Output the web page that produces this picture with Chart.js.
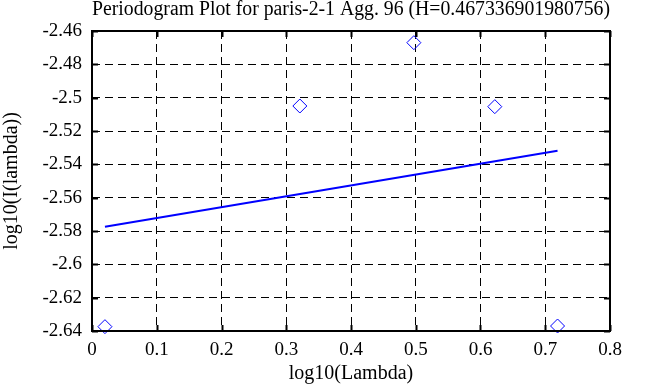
<!DOCTYPE html>
<html>
<head>
<meta charset="utf-8">
<script src="https://cdn.jsdelivr.net/npm/chart.js@4/dist/chart.umd.min.js"></script>
<style>
html,body{margin:0;padding:0;background:#fff;}
#wrap{width:657px;height:387px;}
</style>
</head>
<body>
<div id="wrap"><canvas id="c" width="657" height="387"></canvas></div>
<script>
// ---- data ----
const xLambda = [0.0200, 0.3210, 0.4971, 0.6221, 0.7190];   // log10(Lambda)
const yPower  = [-2.6374, -2.5050, -2.4670, -2.5054, -2.6370]; // log10(I(lambda))
const fitX = [0.0200, 0.7190];
const fitY = [-2.5775, -2.5319];
const xTicks = [0, 0.1, 0.2, 0.3, 0.4, 0.5, 0.6, 0.7, 0.8];
const yTicks = [-2.46, -2.48, -2.5, -2.52, -2.54, -2.56, -2.58, -2.6, -2.62, -2.64];
const titleText = 'Periodogram Plot for paris-2-1 Agg. 96 (H=0.467336901980756)';
const xTitle = 'log10(Lambda)';
const yTitle = 'log10(I(lambda))';

const FONT = 'Liberation Serif';

const framePlugin = {
  id: 'frame',
  afterDatasetsDraw(chart) {
    const {ctx, chartArea: a, scales} = chart;
    ctx.save();
    ctx.strokeStyle = '#000';
    ctx.lineWidth = 2;
    ctx.setLineDash([]);
    const tl = 6;
    ctx.beginPath();
    scales.x.ticks.forEach(t => {
      const px = Math.round(scales.x.getPixelForValue(t.value)) + 0.5;
      ctx.moveTo(px, a.bottom); ctx.lineTo(px, a.bottom - tl);
      ctx.moveTo(px, a.top); ctx.lineTo(px, a.top + tl);
    });
    scales.y.ticks.forEach(t => {
      const py = Math.round(scales.y.getPixelForValue(t.value)) + 0.5;
      ctx.moveTo(a.left, py); ctx.lineTo(a.left + tl, py);
      ctx.moveTo(a.right, py); ctx.lineTo(a.right - tl, py);
    });
    ctx.stroke();
    ctx.strokeRect(a.left, a.top, a.right - a.left, a.bottom - a.top);
    ctx.restore();
  }
};

new Chart(document.getElementById('c'), {
  type: 'scatter',
  data: {
    datasets: [
      {
        label: 'fit',
        type: 'line',
        data: fitX.map((x, i) => ({x, y: fitY[i]})),
        borderColor: '#0000ff',
        borderWidth: 2,
        pointRadius: 0,
        fill: false,
        order: 2
      },
      {
        label: 'periodogram',
        data: xLambda.map((x, i) => ({x, y: yPower[i]})),
        pointStyle: 'rectRot',
        pointRadius: 7,
        pointBorderWidth: 1,
        pointBorderColor: '#0000ff',
        pointBackgroundColor: 'rgba(255,255,255,0)',
        clip: false,
        order: 1
      }
    ]
  },
  options: {
    responsive: false,
    animation: false,
    layout: { padding: { top: 0, right: 47, bottom: 0, left: 0 } },
    plugins: {
      legend: { display: false },
      tooltip: { enabled: false },
      title: {
        display: true,
        text: titleText,
        fullSize: false,
        color: '#000',
        font: { family: FONT, size: 20, weight: 'normal', lineHeight: 1.0 },
        padding: { top: 0, bottom: 11 }
      }
    },
    scales: {
      x: {
        type: 'linear',
        min: 0, max: 0.8,
        afterBuildTicks: s => { s.ticks = xTicks.map(v => ({value: v})); },
        afterFit: s => { s.height = 56; },
        ticks: {
          color: '#000',
          font: { family: FONT, size: 19 },
          padding: 8,
          maxRotation: 0,
          callback: v => String(+(+v).toFixed(2))
        },
        grid: { color: '#000', lineWidth: 1, drawTicks: false },
        border: { display: false, dash: [8, 5] },
        title: {
          display: true, text: xTitle, color: '#000',
          font: { family: FONT, size: 20, lineHeight: 1.2 },
          padding: { top: 0, bottom: 1 }
        }
      },
      y: {
        type: 'linear',
        min: -2.64, max: -2.46,
        afterBuildTicks: s => { s.ticks = yTicks.slice().reverse().map(v => ({value: v})); },
        afterFit: s => { s.width = 92; },
        ticks: {
          color: '#000',
          font: { family: FONT, size: 19 },
          padding: 10,
          callback: v => String(+(+v).toFixed(2))
        },
        grid: { color: '#000', lineWidth: 1, drawTicks: false },
        border: { display: false, dash: [8, 5] },
        title: {
          display: true, text: yTitle, color: '#000',
          font: { family: FONT, size: 20, lineHeight: 1.2 },
          padding: { top: 0, bottom: 0 }
        }
      }
    }
  },
  plugins: [framePlugin]
});
</script>
</body>
</html>
